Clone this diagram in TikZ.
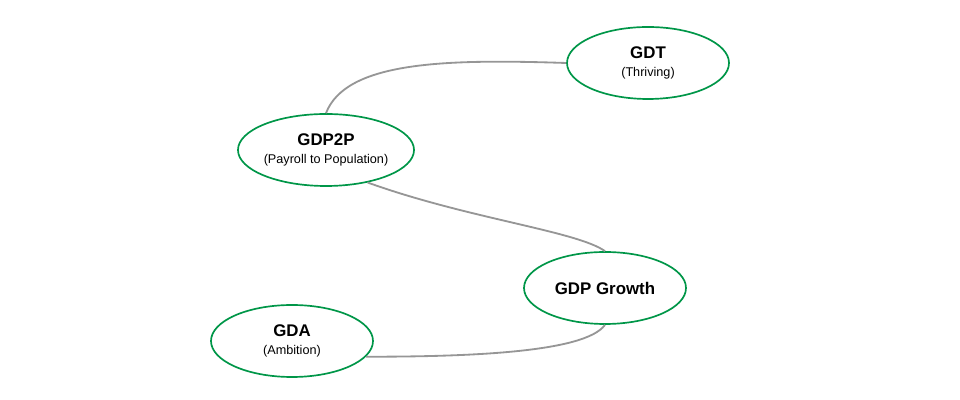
\documentclass[tikz,border=0pt]{standalone}
\usepackage{fontspec}
\setmainfont{Liberation Sans}
\usetikzlibrary{shapes.geometric}
\definecolor{ringgreen}{RGB}{0,150,72}
\definecolor{linkgray}{RGB}{150,150,150}
\begin{document}
\begin{tikzpicture} [
            every node/.style = {draw=ringgreen, ellipse, line width=1.2pt, minimum width=4.05cm, minimum height=1.8cm, inner sep=0pt, align=center, font=\small},
            link/.style = {draw=linkgray, line width=1.3pt},
        ]
            \useasboundingbox (0,0) rectangle (24,10);

            \node (gdt)    at (16.2, 8.425)  {\textbf{\large GDT}\\[2pt](Thriving)};
            \node (p2p)    at (8.15, 6.25)   {\textbf{\large GDP2P}\\[2pt](Payroll to Population)};
            \node (growth) at (15.125, 2.8)  {\textbf{\large GDP Growth}};
            \node (gda)    at (7.3, 1.475)   {\textbf{\large GDA}\\[2pt](Ambition)};

            \draw[link] (p2p.north) .. controls +(0.5,1.3) and +(-3,0.1) .. (gdt.west);
            \draw[link] (p2p.-38) .. controls +(2.5,-0.9) and +(-0.7,0.5) .. (growth.north);
            \draw[link] (growth.south) .. controls +(-0.5,-0.7) and +(2.5,0) .. (gda.-12);
        \end{tikzpicture}
\end{document}
